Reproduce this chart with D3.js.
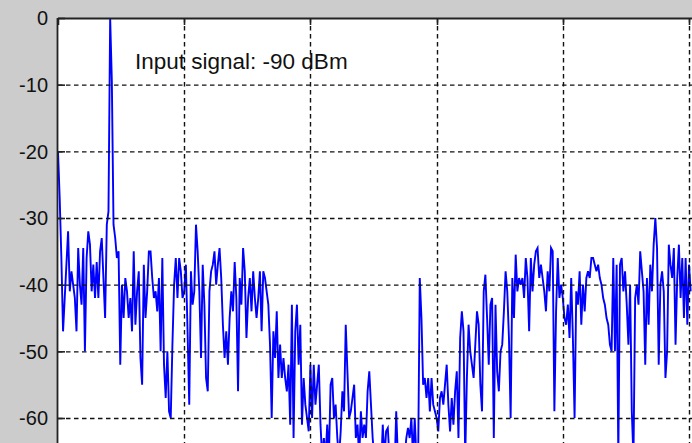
<!DOCTYPE html>
<html>
<head>
<meta charset="utf-8">
<script src="https://cdn.jsdelivr.net/npm/d3@7"></script>
<style>
body { margin: 0; background: #cccccc; overflow: hidden; }
</style>
</head>
<body>
<script>
// spectrum levels (dB), one grid column at a time
var seg1 = [-20,-27,-36,-47,-42,-37,-32,-41,-38,-40,
            -42,-47,-34.5,-40,-43,-34.5,-50,-36,-32,-34,
            -41,-37,-42,-36.6,-42,-35,-33,-39,-45,-31,
            -29,0,-9.5,-31,-33,-36,-35,-52,-40,-45,
            -39,-41,-45,-42,-47,-35,-46,-41,-38,-51,
            -55,-37,-45,-41,-35,-35,-39,-42,-41,-44,
            -39,-50,-36,-52,-57,-50,-59,-60,-49,-40,
            -36,-42,-36,-38,-42];
var seg2 = [-41,-37,-47,-58,-38,-43,-41,-31,-35,-41,
            -51,-37,-43,-54,-56,-41,-38,
            -37,-35,-40,-37,-34.5,-39,-46,-51,-47,-52,-45,-41,-44,-36.6,-42,-56,-39,-43,-34.5,-38,
            -48,-42,-39,-44,-38,-42,
            -45,-42,-38,-47,-38,
            -39,-41,-43,-49,-60,
            -47,-51,-44,-54,-49,-54,-51,-54,-56,-52,-61,-43,-63,-47,-43,-52,-46,-61,-54,-58,-60,-62];
var seg3 = [-52,-60,-52,-58,-55,-52,-61,-66,-63,-66,
            -61,-66,-55,-54,-60,-58,-63,-66,-62,-56,
            -59,-46,-53,-60,-59,-57,-55,-63,-61,-66,
            -59,-63,-61,-63,-56,-53,-58,-63,-66,-66,
            -67,-66,-68,-61,-66,-62,-61.5,-66,-67,-66,
            -68,-59,-66,-67,-66,-68,-66,-63,-61.5,-63,
            -60,-66,-60,-66,-67,-39,-45,-55,-54,-57,
            -54,-59,-54,-58,-59];
var seg4 = [-60,-62,-57,-56,-58,-55,-52,-58,-62,-57,-61,-56,-53,-63,-48,-44,-47,-66,-54,-46,-50,-52,-54,-49,-44,-46,-55,
            -59,-41,-38.5,-45,-52,-43,-42,-63,-43,-53,-56,-50,-49,-44,-38,
            -41,-48,-60,-39,-45,-35.5,-41,-39,-40,-39,-42,-36,-39,-47,-36,
            -41,-37,-35,-34.5,-39,-37,-39,-41,-44,-38,-41,-34.5,-35,-59,-44,-36,-42,
            -40];
var seg5 = [-42,-45,-46,-43,-48,-39,-48,-60,
            -41,-43,-38,-46,-40,-44,-39,-38,-39,-36,-36,
            -37,-38,-37,-39,-40,-42,-43,-45,-46,-49,-50,
            -36,-50,-37,-66,
            -37,-36,-41,-38,-43,-49,-40,-59,-66,-42,-40,-43,
            -35,-38,-41,-52,-39,-46,-37,-41,-34,-30,-34.5,
            -52,-40,-38,-41,-54,
            -50,-34,-37,-39,-34.5,-49,-39,-34,-42,-36,-45,-36,-46,-37,-41];
var levels = seg1.concat(seg2, seg3, seg4, seg5);

var yTicks = [0, -10, -20, -30, -40, -50, -60];
var xTicks = [0, 75, 150, 225, 300, 375];
var note = "Input signal: -90 dBm";

var W = 692, H = 443;
var plotLeft = 58, plotTop = 18;

var x = d3.scaleLinear().domain([0, 375]).range([58, 689]);
var y = d3.scaleLinear().domain([0, -60]).range([18, 418]);

var svg = d3.select("body")
            .append("svg")
            .attr("width", W)
            .attr("height", H);

svg.append("rect")
   .attr("width", W)
   .attr("height", H)
   .attr("fill", "#cccccc");

svg.append("rect")
   .attr("x", plotLeft)
   .attr("y", plotTop)
   .attr("width", W - plotLeft)
   .attr("height", H - plotTop)
   .attr("fill", "white");

svg.append("clipPath")
   .attr("id", "plotclip")
   .append("rect")
   .attr("x", plotLeft)
   .attr("y", plotTop)
   .attr("width", W - plotLeft)
   .attr("height", H - plotTop);

var line = d3.line()
             .x(function(d, i) { return x(i); })
             .y(function(d) { return y(d); });

svg.append("path")
   .datum(levels)
   .attr("clip-path", "url(#plotclip)")
   .attr("d", line)
   .attr("fill", "none")
   .attr("stroke", "#0000ff")
   .attr("stroke-width", 1.9);

// dashed grid, drawn over the trace
svg.selectAll(".hgrid")
   .data(yTicks.slice(1))
   .enter()
   .append("line")
   .attr("class", "hgrid")
   .attr("x1", plotLeft)
   .attr("x2", W)
   .attr("y1", function(d) { return y(d) + 0.5; })
   .attr("y2", function(d) { return y(d) + 0.5; })
   .attr("stroke", "#111")
   .attr("stroke-width", 1.4)
   .attr("stroke-dasharray", "4.5,3.5");

svg.selectAll(".vgrid")
   .data(xTicks.slice(1))
   .enter()
   .append("line")
   .attr("class", "vgrid")
   .attr("x1", function(d) { return Math.round(x(d)) + 0.5; })
   .attr("x2", function(d) { return Math.round(x(d)) + 0.5; })
   .attr("y1", plotTop)
   .attr("y2", H)
   .attr("stroke", "#111")
   .attr("stroke-width", 1.4)
   .attr("stroke-dasharray", "4.5,3.5");

// inward tick marks
svg.selectAll(".xtick")
   .data(xTicks)
   .enter()
   .append("line")
   .attr("x1", function(d) { return Math.round(x(d)) + 0.5; })
   .attr("x2", function(d) { return Math.round(x(d)) + 0.5; })
   .attr("y1", plotTop)
   .attr("y2", plotTop + 7)
   .attr("stroke", "#222")
   .attr("stroke-width", 1.6);

svg.selectAll(".ytick")
   .data(yTicks)
   .enter()
   .append("line")
   .attr("x1", plotLeft)
   .attr("x2", plotLeft + 7)
   .attr("y1", function(d) { return y(d) + 0.5; })
   .attr("y2", function(d) { return y(d) + 0.5; })
   .attr("stroke", "#222")
   .attr("stroke-width", 1.6);

// axes box edges
svg.append("line")
   .attr("x1", plotLeft).attr("x2", W)
   .attr("y1", plotTop + 0.5).attr("y2", plotTop + 0.5)
   .attr("stroke", "#222")
   .attr("stroke-width", 1.8);

svg.append("line")
   .attr("x1", plotLeft - 0.5).attr("x2", plotLeft - 0.5)
   .attr("y1", plotTop).attr("y2", H)
   .attr("stroke", "#222")
   .attr("stroke-width", 1.8);

svg.selectAll(".ylabel")
   .data(yTicks)
   .enter()
   .append("text")
   .attr("x", 48)
   .attr("y", function(d) { return y(d); })
   .attr("dy", "0.36em")
   .attr("text-anchor", "end")
   .attr("font-family", "Liberation Sans, Arial, sans-serif")
   .attr("font-size", 20)
   .attr("fill", "#111")
   .text(function(d) { return d; });

svg.append("text")
   .attr("x", 135)
   .attr("y", 69)
   .attr("font-family", "Liberation Sans, Arial, sans-serif")
   .attr("font-size", 22.5)
   .attr("fill", "#111")
   .text(note);
</script>
</body>
</html>
